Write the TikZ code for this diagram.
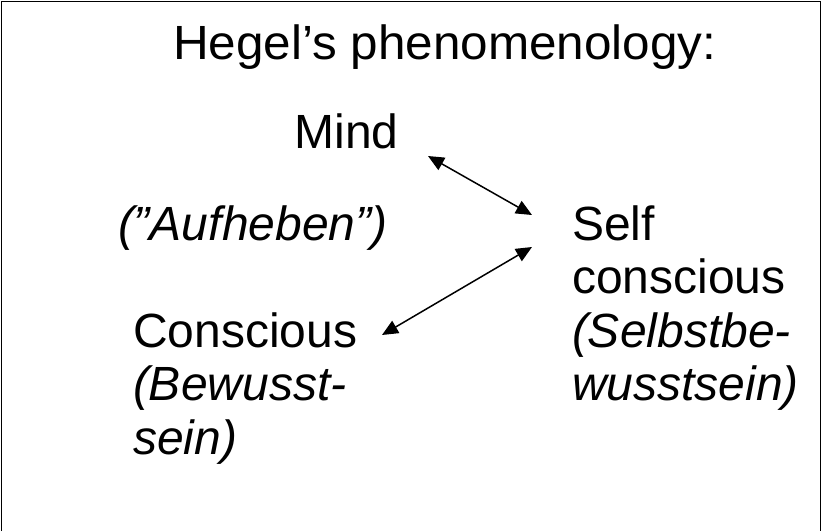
\documentclass[tikz,border=0pt]{standalone}
\usepackage{fontspec}
\setmainfont{Liberation Sans}
\usetikzlibrary{arrows.meta}
\begin{document}
\begin{tikzpicture}[x=1pt,y=-1pt,
  txt/.style={anchor=base west,inner sep=0pt,outer sep=0pt,font=\fontsize{48}{53.5}\selectfont},
  it/.style={txt,font=\fontsize{48}{53.5}\selectfont\itshape},
  dbl/.style={line width=1.5pt,{Triangle[length=16pt,width=14pt]}-{Triangle[length=16pt,width=14pt]}},
  frame/.style={line width=1.6pt,draw=black}]
\useasboundingbox (0,0) rectangle (822,531);
\draw[frame] (1.5,531) -- (1.5,1.5) -- (820.5,1.5) -- (820.5,531);
\node[txt,xscale=1.03,transform shape] (title) at (173,59) {Hegel’s phenomenology:};
\node[txt] (mind) at (294.5,148) {Mind};
\node[it] (auf) at (118,240) {(”Aufheben”)};
\node[txt] (self) at (572,240) {\vtop{\baselineskip=53.5pt\hbox{Self}\hbox{conscious}\hbox{\itshape (Selbstbe-}\hbox{\itshape wusstsein)}}};
\node[txt] (cons) at (133,347) {\vtop{\baselineskip=53.5pt\hbox{Conscious}\hbox{\itshape (Bewusst-}\hbox{\itshape sein)}}};
\coordinate (mindport) at (428,156);
\coordinate (selfportA) at (532,215);
\coordinate (selfportB) at (532,247);
\coordinate (consport) at (382,335);
\draw[dbl] (mindport) -- (selfportA);
\draw[dbl] (selfportB) -- (consport);
\end{tikzpicture}
\end{document}
